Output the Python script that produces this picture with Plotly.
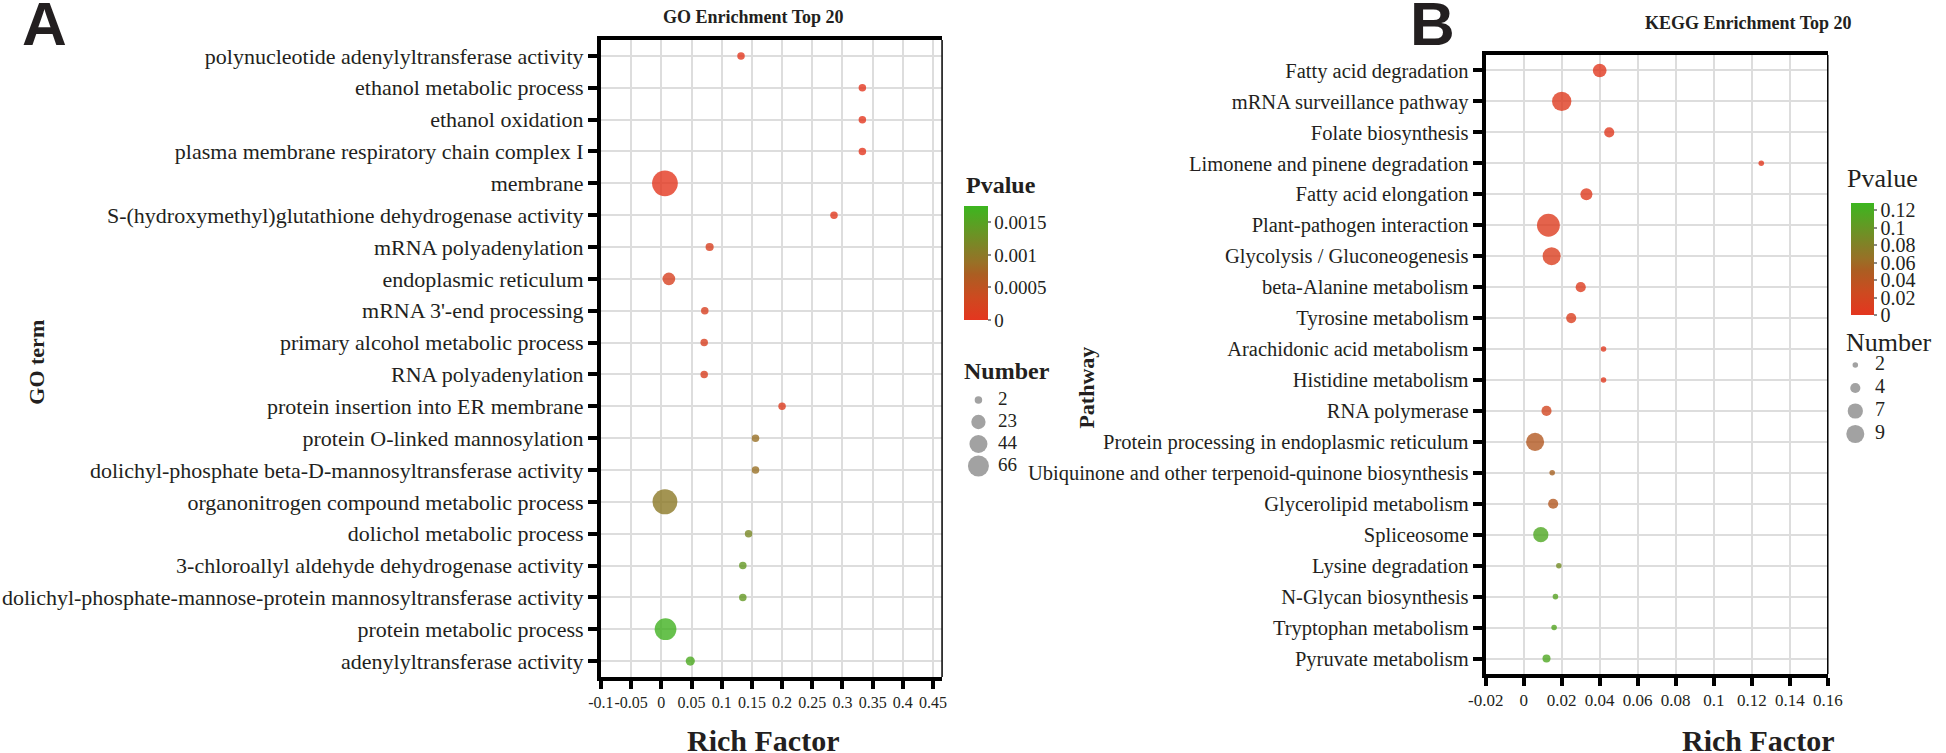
import plotly.graph_objects as go
import math

# ---------------- data ----------------
go_terms = [
    "polynucleotide adenylyltransferase activity",
    "ethanol metabolic process",
    "ethanol oxidation",
    "plasma membrane respiratory chain complex I",
    "membrane",
    "S-(hydroxymethyl)glutathione dehydrogenase activity",
    "mRNA polyadenylation",
    "endoplasmic reticulum",
    "mRNA 3'-end processing",
    "primary alcohol metabolic process",
    "RNA polyadenylation",
    "protein insertion into ER membrane",
    "protein O-linked mannosylation",
    "dolichyl-phosphate beta-D-mannosyltransferase activity",
    "organonitrogen compound metabolic process",
    "dolichol metabolic process",
    "3-chloroallyl aldehyde dehydrogenase activity",
    "dolichyl-phosphate-mannose-protein mannosyltransferase activity",
    "protein metabolic process",
    "adenylyltransferase activity",
]
go_rich = [0.132, 0.333, 0.333, 0.333, 0.006, 0.286, 0.080, 0.0125, 0.072, 0.071,
           0.071, 0.200, 0.156, 0.156, 0.006, 0.1445, 0.135, 0.135, 0.007, 0.048]
go_number = [2, 2, 2, 2, 110, 2, 3, 16, 2, 2, 2, 2, 2, 2, 102, 2, 2, 2, 72, 5]
go_pvalue = [0.00003, 0.00002, 0.00002, 0.00002, 0.00001, 0.00005, 0.00018, 0.00020,
             0.00018, 0.00018, 0.00018, 0.00010, 0.00088, 0.00088, 0.00100, 0.00118,
             0.00138, 0.00138, 0.00170, 0.00160]
go_x_ticks = [-0.1, -0.05, 0, 0.05, 0.1, 0.15, 0.2, 0.25, 0.3, 0.35, 0.4, 0.45]
go_x_ticklabels = ["-0.1", "-0.05", "0", "0.05", "0.1", "0.15", "0.2", "0.25", "0.3", "0.35", "0.4", "0.45"]
go_p_ticks = [0, 0.0005, 0.001, 0.0015]
go_p_ticklabels = ["0", "0.0005", "0.001", "0.0015"]
go_size_breaks = [2, 23, 44, 66]

kegg_pathways = [
    "Fatty acid degradation",
    "mRNA surveillance pathway",
    "Folate biosynthesis",
    "Limonene and pinene degradation",
    "Fatty acid elongation",
    "Plant-pathogen interaction",
    "Glycolysis / Gluconeogenesis",
    "beta-Alanine metabolism",
    "Tyrosine metabolism",
    "Arachidonic acid metabolism",
    "Histidine metabolism",
    "RNA polymerase",
    "Protein processing in endoplasmic reticulum",
    "Ubiquinone and other terpenoid-quinone biosynthesis",
    "Glycerolipid metabolism",
    "Spliceosome",
    "Lysine degradation",
    "N-Glycan biosynthesis",
    "Tryptophan metabolism",
    "Pyruvate metabolism",
]
kegg_rich = [0.040, 0.020, 0.045, 0.125, 0.033, 0.013, 0.0147, 0.030, 0.025, 0.042,
             0.042, 0.012, 0.006, 0.015, 0.0155, 0.009, 0.0185, 0.0167, 0.016, 0.012]
kegg_number = [6, 10, 4, 2, 5, 13, 9, 4, 4, 2, 2, 4, 9, 2, 4, 7, 2, 2, 2, 3]
kegg_pvalue = [0.003, 0.006, 0.004, 0.003, 0.006, 0.008, 0.010, 0.008, 0.010, 0.005,
               0.005, 0.020, 0.045, 0.055, 0.045, 0.115, 0.090, 0.110, 0.112, 0.115]
kegg_x_ticks = [-0.02, 0, 0.02, 0.04, 0.06, 0.08, 0.1, 0.12, 0.14, 0.16]
kegg_x_ticklabels = ["-0.02", "0", "0.02", "0.04", "0.06", "0.08", "0.1", "0.12", "0.14", "0.16"]
kegg_p_ticks = [0, 0.02, 0.04, 0.06, 0.08, 0.1, 0.12]
kegg_p_ticklabels = ["0", "0.02", "0.04", "0.06", "0.08", "0.1", "0.12"]
kegg_size_breaks = [2, 4, 7, 9]

# ---------------- style ----------------
W, H = 1946, 753
def px(x): return x / W
def py(y): return 1 - y / H

SERIF = "Liberation Serif"
SANS = "Liberation Sans"
TXT = "#231f20"
GRID = "#dddddd"
GO_PMAX = 0.00175
KEGG_PMAX = 0.128
colorscale = [[0.0, "#e4361f"], [0.2, "#cd4a20"], [0.4, "#ab5e22"], [0.5, "#997026"],
              [0.6, "#877d27"], [0.8, "#629a24"], [1.0, "#3cb61f"]]

def size_go(n): return 4.66 + 2.01 * math.sqrt(n)
def size_kegg(n): return max(4.0, -5.6 + 7.88 * math.sqrt(n))

fig = go.Figure()

# GO panel
fig.add_trace(go.Scatter(
    x=go_rich, y=go_terms, mode="markers", xaxis="x", yaxis="y", hoverinfo="skip",
    marker=dict(size=[size_go(n) for n in go_number], color=go_pvalue, colorscale=colorscale,
                cmin=0, cmax=GO_PMAX, opacity=0.8, line=dict(width=0), showscale=True,
                colorbar=dict(x=px(962), xanchor="left", y=py(263), yanchor="middle",
                              len=114, lenmode="pixels", thickness=24, thicknessmode="pixels",
                              outlinewidth=0, xpad=0, ypad=0, tickmode="array",
                              tickvals=go_p_ticks, ticktext=go_p_ticklabels,
                              ticks="outside", ticklen=3, tickwidth=2, tickcolor="#8a8a8a",
                              tickfont=dict(family=SERIF, size=19, color=TXT)))))

# KEGG panel
fig.add_trace(go.Scatter(
    x=kegg_rich, y=kegg_pathways, mode="markers", xaxis="x2", yaxis="y2", hoverinfo="skip",
    marker=dict(size=[size_kegg(n) for n in kegg_number], color=kegg_pvalue, colorscale=colorscale,
                cmin=0, cmax=KEGG_PMAX, opacity=0.8, line=dict(width=0), showscale=True,
                colorbar=dict(x=px(1865), xanchor="left", y=py(259), yanchor="middle",
                              len=112, lenmode="pixels", thickness=23, thicknessmode="pixels",
                              outlinewidth=0, xpad=0, ypad=0, tickmode="array",
                              tickvals=kegg_p_ticks, ticktext=kegg_p_ticklabels,
                              ticks="outside", ticklen=3, tickwidth=2, tickcolor="#8a8a8a",
                              tickfont=dict(family=SERIF, size=20, color=TXT)))))

# size legends
go_break_labels = [str(b) for b in go_size_breaks]
fig.add_trace(go.Scatter(x=[0 for _ in go_size_breaks], y=go_break_labels, mode="markers",
                         xaxis="x3", yaxis="y3", hoverinfo="skip",
                         marker=dict(size=[size_go(b) for b in go_size_breaks], color="#7a7a7a",
                                     line=dict(width=0))))
fig.add_trace(go.Scatter(x=[1 for _ in go_size_breaks], y=go_break_labels, mode="text",
                         text=go_break_labels, textposition="middle right",
                         xaxis="x3", yaxis="y3", hoverinfo="skip",
                         textfont=dict(family=SERIF, size=19, color=TXT)))
kegg_break_labels = [str(b) for b in kegg_size_breaks]
fig.add_trace(go.Scatter(x=[0 for _ in kegg_size_breaks], y=kegg_break_labels, mode="markers",
                         xaxis="x4", yaxis="y4", hoverinfo="skip",
                         marker=dict(size=[size_kegg(b) for b in kegg_size_breaks], color="#7a7a7a",
                                     line=dict(width=0))))
fig.add_trace(go.Scatter(x=[1 for _ in kegg_size_breaks], y=kegg_break_labels, mode="text",
                         text=kegg_break_labels, textposition="middle right",
                         xaxis="x4", yaxis="y4", hoverinfo="skip",
                         textfont=dict(family=SERIF, size=20, color=TXT)))

axis_common = dict(ticks="outside", tickwidth=4, tickcolor="black", showline=True, linewidth=4,
                   linecolor="black", showgrid=True, gridcolor=GRID, gridwidth=2, zeroline=False,
                   tickangle=0, fixedrange=True)

fig.update_layout(
    width=W, height=H, margin=dict(l=0, r=0, t=0, b=0),
    paper_bgcolor="white", plot_bgcolor="white", showlegend=False,
    xaxis=dict(domain=[px(593), px(940)], range=[-0.1, 0.465], tickmode="array",
               tickvals=go_x_ticks, ticktext=go_x_ticklabels, ticklen=8, mirror=True,
               anchor="y", tickfont=dict(family=SERIF, size=16, color=TXT), **axis_common),
    yaxis=dict(domain=[py(677), py(40)], type="category", categoryorder="array",
               categoryarray=go_terms, range=[19.5, -0.5], ticklen=9, anchor="x",
               tickfont=dict(family=SERIF, size=22, color=TXT), **axis_common),
    xaxis2=dict(domain=[px(1493), px(1841)], range=[-0.02, 0.16], tickmode="array",
                tickvals=kegg_x_ticks, ticktext=kegg_x_ticklabels, ticklen=8, mirror=True,
                anchor="y2", tickfont=dict(family=SERIF, size=17, color=TXT), **axis_common),
    yaxis2=dict(domain=[py(674), py(55)], type="category", categoryorder="array",
                categoryarray=kegg_pathways, range=[19.5, -0.5], ticklen=9, anchor="x2",
                tickfont=dict(family=SERIF, size=20.5, color=TXT), **axis_common),
    xaxis3=dict(domain=[px(957), px(1037)], range=[-1, 3], visible=False, anchor="y3", fixedrange=True),
    yaxis3=dict(domain=[py(477), py(389)], type="category", categoryorder="array",
                categoryarray=go_break_labels, range=[3.5, -0.5], visible=False, anchor="x3", fixedrange=True),
    xaxis4=dict(domain=[px(1849), px(1929)], range=[-1, 3], visible=False, anchor="y4", fixedrange=True),
    yaxis4=dict(domain=[py(445.5), py(353.5)], type="category", categoryorder="array",
                categoryarray=kegg_break_labels, range=[3.5, -0.5], visible=False, anchor="x4", fixedrange=True),
)

fig.add_shape(type="line", xref="x domain", yref="y domain", x0=1, x1=1, y0=0, y1=1,
              line=dict(color="black", width=1.5))
fig.add_shape(type="line", xref="x2 domain", yref="y2 domain", x0=1, x1=1, y0=0, y1=1,
              line=dict(color="black", width=1.5))

def ann(text, x, y, size, bold=False, family=SERIF, xanchor="center", angle=0):
    fig.add_annotation(text=f"<b>{text}</b>" if bold else text, x=px(x), y=py(y),
                       xref="paper", yref="paper", xanchor=xanchor, yanchor="middle",
                       showarrow=False, textangle=angle,
                       font=dict(family=family, size=size, color=TXT))

ann("A", 27, 24, 62, bold=True, family=SANS)
ann("B", 1439, 24, 62, bold=True, family=SANS)
ann("GO Enrichment Top 20", 748, 17, 18, bold=True)
ann("KEGG Enrichment Top 20", 1760, 23, 18, bold=True)
ann("GO term", 18, 362, 22, bold=True, angle=-90)
ann("Pathway", 1086, 388, 22, bold=True, angle=-90)
ann("Rich Factor", 758, 740, 30, bold=True)
ann("Rich Factor", 1770, 740, 30, bold=True)
ann("Pvalue", 962, 185, 24, bold=True, xanchor="left")
ann("Number", 960, 371, 24, bold=True, xanchor="left")
ann("Pvalue", 1859, 178, 26, xanchor="left")
ann("Number", 1857, 342, 26, xanchor="left")

fig.write_html("out.html", config={"displayModeBar": False},
               post_script="document.body.style.margin='0';document.body.style.overflow='hidden';")
